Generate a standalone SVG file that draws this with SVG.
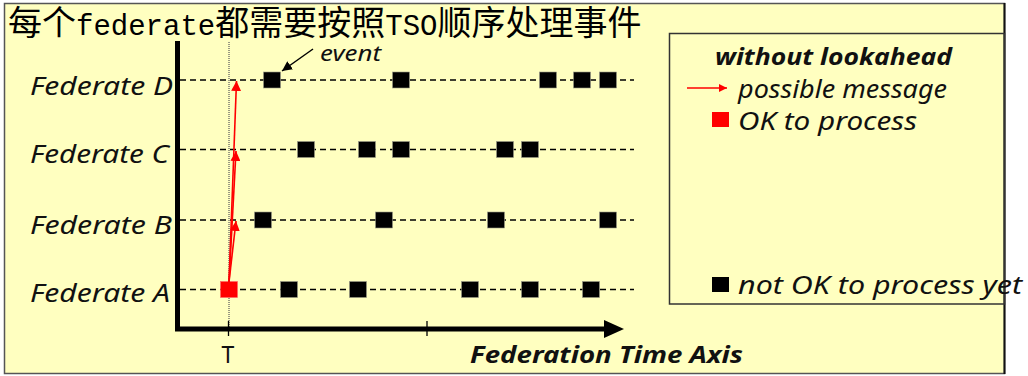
<svg xmlns="http://www.w3.org/2000/svg" width="1028" height="376" viewBox="0 0 1028 376">
<style>
.hand{font-family:"Noto Sans","DejaVu Sans",sans-serif;font-style:italic;fill:#111}
.upright{font-style:normal}
.bold{font-weight:bold}
.cjk{font-family:"Noto Sans CJK SC",sans-serif;font-size:34px}
.mono{font-family:"Liberation Mono",monospace;font-size:29px}
.ev{fill:#000;stroke:#998;stroke-width:0.6}
.ok{fill:#ff0000;stroke:#f66;stroke-width:0.6}
.row{stroke:#000;stroke-width:1.4;stroke-dasharray:6 4;fill:none}
.msg{stroke:#ff0000;stroke-width:1.6;fill:none;marker-end:url(#rh)}
</style>
<defs>
<marker id="rh" markerUnits="userSpaceOnUse" markerWidth="12" markerHeight="10" refX="10" refY="5" orient="auto">
<path d="M0,0 L10,5 L0,10 Z" fill="#ff0000"/>
</marker>
<marker id="rhs" markerUnits="userSpaceOnUse" markerWidth="10" markerHeight="8" refX="8" refY="4" orient="auto">
<path d="M0,0 L8,4 L0,8 Z" fill="#ff0000"/>
</marker>
<marker id="bh" markerUnits="userSpaceOnUse" markerWidth="12" markerHeight="10" refX="10" refY="5" orient="auto">
<path d="M0,0 L10,5 L0,10 Z" fill="#000"/>
</marker>
</defs>
<rect x="4.5" y="3.5" width="1000" height="370" fill="#FFFFC0" stroke="#555" stroke-width="1.5"/>
<line x1="1004.5" y1="3" x2="1004.5" y2="374" stroke="#111" stroke-width="2"/>
<g id="title">
<text x="8" y="35" fill="#000"><tspan class="cjk">每个</tspan><tspan class="mono">federate</tspan><tspan class="cjk">都需要按照</tspan><tspan class="mono">TSO</tspan><tspan class="cjk">顺序处理事件</tspan></text>
</g>
<g id="legend">
<rect x="669.5" y="33.5" width="335" height="270.5" fill="none" stroke="#333" stroke-width="1.5"/>
<text class="hand bold" x="715" y="65" font-size="24" textLength="237" lengthAdjust="spacingAndGlyphs">without lookahead</text>
<line x1="687" y1="88" x2="727" y2="88" stroke="#ff0000" stroke-width="1.3" marker-end="url(#rhs)"/>
<text class="hand" x="738" y="98" font-size="25" textLength="209" lengthAdjust="spacingAndGlyphs">possible message</text>
<rect x="712" y="112" width="17" height="15" fill="#ff0000"/>
<text class="hand" x="738" y="130" font-size="25" textLength="179" lengthAdjust="spacingAndGlyphs">OK to process</text>
<rect x="712" y="277" width="17" height="15" fill="#000"/>
<text class="hand" x="738" y="294" font-size="25" textLength="284" lengthAdjust="spacingAndGlyphs">not OK to process yet</text>
</g>
<g id="axes">
<line x1="229" y1="42" x2="229" y2="332" stroke="#334" stroke-width="1" stroke-dasharray="1 1"/>
<line x1="177.5" y1="41" x2="177.5" y2="331" stroke="#000" stroke-width="5"/>
<line x1="175" y1="329" x2="607" y2="329" stroke="#000" stroke-width="5"/>
<path d="M604,320 L624,329 L604,338 Z" fill="#000"/>
<line x1="228.5" y1="321" x2="228.5" y2="336" stroke="#000" stroke-width="1.3"/>
<line x1="427" y1="321" x2="427" y2="336" stroke="#000" stroke-width="1.3"/>
<text class="hand upright" x="228" y="363" font-size="23" text-anchor="middle">T</text>
<text class="hand bold" x="470" y="363" font-size="24" textLength="273" lengthAdjust="spacingAndGlyphs">Federation Time Axis</text>
</g>
<g id="federate-D">
<line class="row" x1="180" y1="80" x2="634" y2="80"/>
<text class="hand" x="30" y="95" font-size="26" textLength="143" lengthAdjust="spacingAndGlyphs">Federate D</text>
<rect class="ev" x="263.5" y="72" width="17" height="16"/>
<rect class="ev" x="392.5" y="72" width="17" height="16"/>
<rect class="ev" x="539.5" y="72" width="17" height="16"/>
<rect class="ev" x="573.5" y="72" width="17" height="16"/>
<rect class="ev" x="599.5" y="72" width="17" height="16"/>
</g>
<g id="federate-C">
<line class="row" x1="180" y1="149.5" x2="634" y2="149.5"/>
<text class="hand" x="30" y="163" font-size="26" textLength="139" lengthAdjust="spacingAndGlyphs">Federate C</text>
<rect class="ev" x="297.5" y="141.5" width="17" height="16"/>
<rect class="ev" x="358.5" y="141.5" width="17" height="16"/>
<rect class="ev" x="392.5" y="141.5" width="17" height="16"/>
<rect class="ev" x="496.5" y="141.5" width="17" height="16"/>
<rect class="ev" x="521.5" y="141.5" width="17" height="16"/>
</g>
<g id="federate-B">
<line class="row" x1="180" y1="220" x2="634" y2="220"/>
<text class="hand" x="30" y="234" font-size="26" textLength="142" lengthAdjust="spacingAndGlyphs">Federate B</text>
<rect class="ev" x="254.5" y="212" width="17" height="16"/>
<rect class="ev" x="375.5" y="212" width="17" height="16"/>
<rect class="ev" x="487.5" y="212" width="17" height="16"/>
<rect class="ev" x="599.5" y="212" width="17" height="16"/>
</g>
<g id="federate-A">
<line class="row" x1="180" y1="289.5" x2="634" y2="289.5"/>
<text class="hand" x="30" y="302" font-size="26" textLength="140" lengthAdjust="spacingAndGlyphs">Federate A</text>
<rect class="ok" x="220.5" y="281.5" width="17" height="16"/>
<rect class="ev" x="280.5" y="281.5" width="17" height="16"/>
<rect class="ev" x="349.5" y="281.5" width="17" height="16"/>
<rect class="ev" x="461.5" y="281.5" width="17" height="16"/>
<rect class="ev" x="521.5" y="281.5" width="17" height="16"/>
<rect class="ev" x="582.5" y="281.5" width="17" height="16"/>
</g>
<g id="event-label">
<text class="hand" x="320" y="61" font-size="22" textLength="61" lengthAdjust="spacingAndGlyphs">event</text>
</g>
<g id="connectors">
<line class="msg" x1="229" y1="282" x2="236.5" y2="81"/>
<line class="msg" x1="229" y1="282" x2="236" y2="151"/>
<line class="msg" x1="229" y1="282" x2="236" y2="221"/>
<line x1="313" y1="49" x2="282" y2="71" stroke="#000" stroke-width="1.5" marker-end="url(#bh)"/>
</g>
</svg>
